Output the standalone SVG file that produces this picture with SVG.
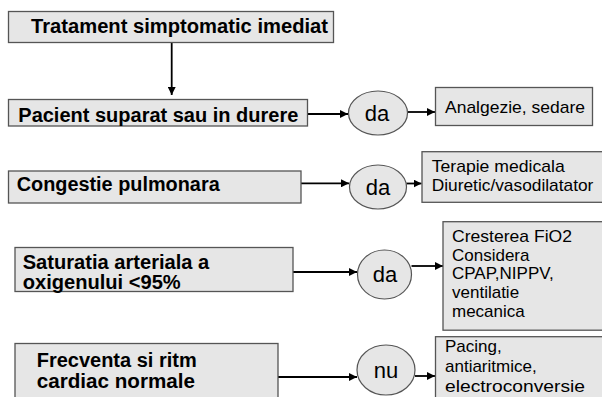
<svg xmlns="http://www.w3.org/2000/svg" width="602" height="397" viewBox="0 0 602 397">
<style>
.box{fill:#e6e6e6;stroke:#555;stroke-width:1.3}
.ell{fill:#e6e6e6;stroke:#555;stroke-width:1.2}
.b{font-family:"Liberation Sans",Arial,sans-serif;font-weight:bold;font-size:19.5px;fill:#000}
.n{font-family:"Liberation Sans",Arial,sans-serif;font-size:17px;fill:#000}
.c{font-family:"Liberation Sans",Arial,sans-serif;font-size:22px;fill:#000;text-anchor:middle}
.ln{stroke:#000;stroke-width:1.8;fill:none;marker-end:url(#ah)}
</style>
<defs>
<marker id="ah" markerUnits="userSpaceOnUse" markerWidth="9" markerHeight="8" refX="8" refY="4" orient="auto">
<path d="M0,0 L8,4 L0,8 Z" fill="#000"/>
</marker>
</defs>
<rect width="602" height="397" fill="#fff"/>
<g id="connectors">
<line class="ln" x1="171.7" y1="43" x2="171.7" y2="95"/>
<line class="ln" x1="307.5" y1="114" x2="348" y2="114"/>
<line class="ln" x1="407.5" y1="112" x2="435" y2="112"/>
<line class="ln" x1="301" y1="183.3" x2="349" y2="183.3"/>
<line class="ln" x1="406.5" y1="183.5" x2="421.5" y2="183.5"/>
<line class="ln" x1="293" y1="272" x2="357" y2="272"/>
<line class="ln" x1="411.5" y1="266" x2="443" y2="266"/>
<line class="ln" x1="278" y1="377" x2="357" y2="377"/>
<line class="ln" x1="415" y1="376" x2="435" y2="376"/>
</g>
<g id="n1">
<rect class="box" x="8.5" y="11.5" width="325" height="31"/>
<text class="b" x="31" y="32.5" textLength="297" lengthAdjust="spacingAndGlyphs">Tratament simptomatic imediat</text>
</g>
<g id="n2">
<rect class="box" x="8.5" y="99.5" width="299" height="26.5"/>
<text class="b" x="18.3" y="121.5" textLength="280" lengthAdjust="spacingAndGlyphs">Pacient suparat sau in durere</text>
</g>
<g id="e1">
<ellipse class="ell" cx="378" cy="113" rx="29.5" ry="22"/>
<text class="c" x="377" y="120.5">da</text>
</g>
<g id="r1">
<rect class="box" x="435.5" y="87.5" width="157" height="38"/>
<text class="n" x="445" y="113" textLength="140" lengthAdjust="spacingAndGlyphs">Analgezie, sedare</text>
</g>
<g id="n3">
<rect class="box" x="8.5" y="171" width="292.5" height="32"/>
<text class="b" x="16.7" y="190.5" textLength="203" lengthAdjust="spacingAndGlyphs">Congestie pulmonara</text>
</g>
<g id="e2">
<ellipse class="ell" cx="378" cy="187" rx="28.5" ry="22"/>
<text class="c" x="378" y="195">da</text>
</g>
<g id="r2">
<rect class="box" x="422" y="151.7" width="190" height="50.6"/>
<text class="n" x="431.7" y="172" textLength="133" lengthAdjust="spacingAndGlyphs">Terapie medicala</text>
<text class="n" x="431.7" y="191" textLength="161.7" lengthAdjust="spacingAndGlyphs">Diuretic/vasodilatator</text>
</g>
<g id="n4">
<rect class="box" x="15" y="247.5" width="278" height="44"/>
<text class="b" x="22.7" y="268.5" textLength="186.6" lengthAdjust="spacingAndGlyphs">Saturatia arteriala a</text>
<text class="b" x="22.7" y="288.5" textLength="158" lengthAdjust="spacingAndGlyphs">oxigenului &lt;95%</text>
</g>
<g id="e3">
<ellipse class="ell" cx="384.5" cy="274.5" rx="27" ry="24.5"/>
<text class="c" x="385" y="282">da</text>
</g>
<g id="r3">
<rect class="box" x="443" y="221.7" width="170" height="108.5"/>
<text class="n" x="452" y="241.7" textLength="120" lengthAdjust="spacingAndGlyphs">Cresterea FiO2</text>
<text class="n" x="452" y="260.5">Considera</text>
<text class="n" x="452" y="279.2">CPAP,NIPPV,</text>
<text class="n" x="452" y="298">ventilatie</text>
<text class="n" x="452" y="316.7">mecanica</text>
</g>
<g id="n5">
<rect class="box" x="15" y="343.5" width="263" height="70"/>
<text class="b" x="36.7" y="366.7" textLength="160" lengthAdjust="spacingAndGlyphs">Frecventa si ritm</text>
<text class="b" x="36.7" y="388.3" textLength="158.3" lengthAdjust="spacingAndGlyphs">cardiac normale</text>
</g>
<g id="e4">
<ellipse class="ell" cx="386" cy="370" rx="29" ry="25"/>
<text class="c" x="386" y="378">nu</text>
</g>
<g id="r4">
<rect class="box" x="435.5" y="336.7" width="180" height="70"/>
<text class="n" x="445" y="351.7">Pacing,</text>
<text class="n" x="445" y="372">antiaritmice,</text>
<text class="n" x="445" y="391.7" textLength="140" lengthAdjust="spacingAndGlyphs">electroconversie</text>
</g>
</svg>
